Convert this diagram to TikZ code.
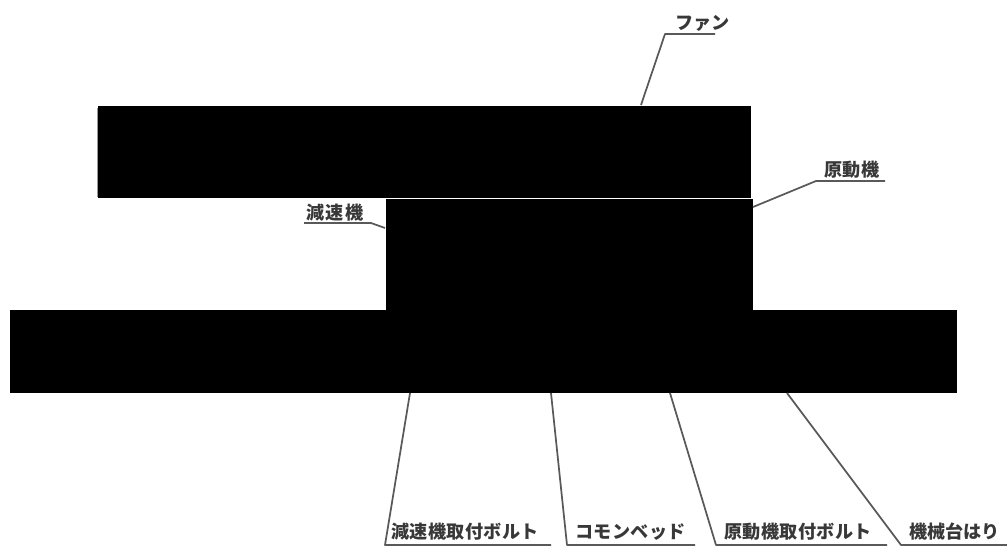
\documentclass[tikz,border=0pt]{standalone}
\usepackage{fontspec}
\newfontfamily\jpfont{Noto Sans CJK JP}
\newcommand{\spaced}[2]{\hbox to #1{#2}}
\newcommand{\gp}{\hfil}
\tikzset{
  x=0.75pt,y=-0.75pt,
  blockbox/.style={fill=black,draw=none,inner sep=0,outer sep=0,anchor=north west},
  leader/.style={draw=black!65,line width=1.3pt,line join=round},
  tag/.style={inner sep=0,outer sep=0,anchor=base west,text=black!78,font=\jpfont\bfseries\fontsize{13.6pt}{14pt}\selectfont}
}
\begin{document}
\begin{tikzpicture}
\useasboundingbox (0,0) rectangle (1007,547);
\draw[draw=black!40,line width=0.6pt] (97.5,108) -- (97.5,197);
% blocks
\node[blockbox,minimum width=489.75pt,minimum height=69pt] (fan) at (98,106) {};
\node[blockbox,minimum width=275.25pt,minimum height=83.25pt] (motor) at (386,199) {};
\node[blockbox,minimum width=710.25pt,minimum height=62.25pt] (base) at (10,310) {};
% leader points
\coordinate (a1) at (641,105); \coordinate (a2) at (665,34); \coordinate (a3) at (715,34);
\coordinate (b1) at (753,207); \coordinate (b2) at (816,181); \coordinate (b3) at (885,181);
\coordinate (c1) at (385,228); \coordinate (c2) at (371,223); \coordinate (c3) at (304,223);
\coordinate (d1) at (410,393); \coordinate (d2) at (385,545); \coordinate (d3) at (551,545);
\coordinate (e1) at (551,393); \coordinate (e2) at (567,545); \coordinate (e3) at (695,545);
\coordinate (f1) at (670,393); \coordinate (f2) at (716,545); \coordinate (f3) at (887,545);
\coordinate (g1) at (787,393); \coordinate (g2) at (901,545); \coordinate (g3) at (1007,545);
\draw[leader] (a1) -- (a2) -- (a3);
\draw[leader] (b1) -- (b2) -- (b3);
\draw[leader] (c1) -- (c2) -- (c3);
\draw[leader] (d1) -- (d2) -- (d3);
\draw[leader] (e1) -- (e2) -- (e3);
\draw[leader] (f1) -- (f2) -- (f3);
\draw[leader] (g1) -- (g2) -- (g3);
% labels
\node[tag] (tfan) at (675,29) {\spaced{39pt}{フ\gp ァ\gp ン}};
\node[tag] (tmotor) at (824,176) {\spaced{41.5pt}{原\gp 動\gp 機}};
\node[tag] (tred) at (306,219) {\spaced{43pt}{減\gp 速\gp 機}};
\node[tag] (tredb) at (391,538) {\spaced{111pt}{減\gp 速\gp 機\gp 取\gp 付\gp ボ\gp ル\gp ト}};
\node[tag] (tbed) at (575,538) {\spaced{83pt}{コ\gp モ\gp ン\gp ベ\gp ッ\gp ド}};
\node[tag] (tmotb) at (724,538) {\spaced{111pt}{原\gp 動\gp 機\gp 取\gp 付\gp ボ\gp ル\gp ト}};
\node[tag] (tbeam) at (909,538) {\spaced{66pt}{機\gp 械\gp 台\gp は\gp り}};
\end{tikzpicture}
\end{document}
